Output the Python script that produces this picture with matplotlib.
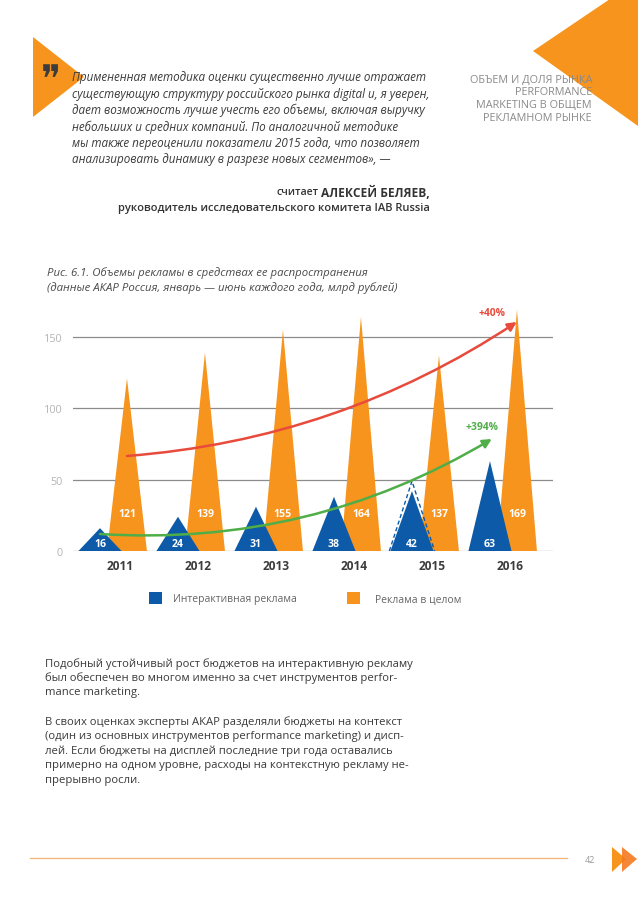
import matplotlib.pyplot as plt
from matplotlib.patches import Polygon, Rectangle

# chart data
years = ['2011', '2012', '2013', '2014', '2015', '2016']
interactive = [16, 24, 31, 38, 42, 63]
total = [121, 139, 155, 164, 137, 169]
interactive_2015_before = 49
growth_total = '+40%'
growth_interactive = '+394%'
yticks = [0, 50, 100, 150]
legend_labels = ['Интерактивная реклама', 'Реклама в целом']

quote_lines = [
    'Примененная методика оценки существенно лучше отражает',
    'существующую структуру российского рынка digital и, я уверен,',
    'дает возможность лучше учесть его объемы, включая выручку',
    'небольших и средних компаний. По аналогичной методике',
    'мы также переоценили показатели 2015 года, что позволяет',
    'анализировать динамику в разрезе новых сегментов», —',
]
header_lines = ['ОБЪЕМ И ДОЛЯ РЫНКА', 'PERFORMANCE', 'MARKETING В ОБЩЕМ', 'РЕКЛАМНОМ РЫНКЕ']
caption_lines = ['Рис. 6.1. Объемы рекламы в средствах ее распространения',
                 '(данные АКАР Россия, январь — июнь каждого года, млрд рублей)']
body_lines = [
    'Подобный устойчивый рост бюджетов на интерактивную рекламу',
    'был обеспечен во многом именно за счет инструментов perfor-',
    'mance marketing.',
    'В своих оценках эксперты АКАР разделяли бюджеты на контекст',
    '(один из основных инструментов performance marketing) и дисп-',
    'лей. Если бюджеты на дисплей последние три года оставались',
    'примерно на одном уровне, расходы на контекстную рекламу не-',
    'прерывно росли.',
]

BLUE = '#0d5ba8'
ORANGE = '#f7941d'
RED = '#e84a3c'
GREEN = '#4fae47'
FONT = ['Open Sans', 'DejaVu Sans']

W, H = 638, 903
fig = plt.figure(figsize=(W / 100, H / 100), dpi=100)

# page layer in pixel coordinates
page = fig.add_axes([0, 0, 1, 1])
page.set_xlim(0, W)
page.set_ylim(H, 0)
page.axis('off')

# decorations
page.add_patch(Polygon([(33, 38), (33, 118), (84, 78)], closed=True, color=ORANGE, lw=0))
page.add_patch(Polygon([(533, 52), (610, 0), (W, 0), (W, 127)], closed=True, color=ORANGE, lw=0))
page.text(51, 82, '❞', fontsize=27, color='#3d3d3d', va='center', ha='center',
          family=['DejaVu Sans'])

for i, line in enumerate(quote_lines):
    page.text(72, 78 + i * 16.4, line, fontsize=8.4, style='italic', color='#3a3a3a',
              va='center', ha='left', family=FONT)

name = page.text(430, 193, 'АЛЕКСЕЙ БЕЛЯЕВ,', fontsize=8.6, fontweight='bold', color='#333333',
                 va='center', ha='right', family=FONT)
fig.canvas.draw()
bb = name.get_window_extent()
page.text(bb.x0 - 3, 193, 'считает', fontsize=7.6, fontweight='semibold', color='#333333',
          va='center', ha='right', family=FONT)
page.text(430, 209, 'руководитель исследовательского комитета IAB Russia', fontsize=8.0,
          fontweight='semibold', color='#333333', va='center', ha='right', family=FONT)

for i, line in enumerate(header_lines):
    page.text(592, 80 + i * 12.8, line, fontsize=7.8, color='#8a8a8a', va='center', ha='right',
              family=FONT)

for i, line in enumerate(caption_lines):
    page.text(47, 273 + i * 15, line, fontsize=8.2, style='italic', color='#4a4a4a',
              va='center', ha='left', family=FONT)

body_y = [664, 678.5, 693, 722.5, 737, 751.5, 766, 780.5]
for y, line in zip(body_y, body_lines):
    page.text(45, y, line, fontsize=8.1, color='#3a3a3a', va='center', ha='left', family=FONT)

# legend
page.add_patch(Rectangle((149, 593), 13, 12, color=BLUE, lw=0))
page.text(173, 600, legend_labels[0], fontsize=7.5, color='#666666', va='center', family=FONT)
page.add_patch(Rectangle((347, 593), 13, 12, color=ORANGE, lw=0))
page.text(375, 600, legend_labels[1], fontsize=7.5, color='#666666', va='center', family=FONT)

# footer
page.plot([30, 567], [859, 859], color='#f2b472', lw=0.9)
page.text(590, 861, '42', fontsize=6.5, color='#9a9a9a', va='center', ha='center', family=FONT)
page.add_patch(Polygon([(612, 848), (612, 873), (626, 860)], closed=True, color=ORANGE, lw=0))
page.add_patch(Polygon([(622, 848), (622, 873), (637, 860)], closed=True, color='#f47a20', lw=0,
                       alpha=0.9))

# chart axes: zero at y=552 px, 1.4267 px per unit, 78 px per year
px_per_unit = 1.4267
ax = fig.add_axes([73 / W, 1 - 552 / H, 480 / W, 252 / H])
ax.set_xlim(-0.519, 5.635)
ax.set_ylim(0, 252 / px_per_unit)
ax.patch.set_alpha(0)
for s in ax.spines.values():
    s.set_visible(False)
ax.set_xticks([])
ax.set_yticks(yticks)
ax.set_yticklabels([str(t) for t in yticks], fontsize=7.8, color='#b5b5b5', family=FONT)
ax.tick_params(axis='y', length=0, pad=7.2)
for t in yticks:
    ax.axhline(t, color='#8c8c8c', lw=0.9, zorder=1)

off = 0.173
bw, ow = 0.276, 0.256
for i, (b, o) in enumerate(zip(interactive, total)):
    xo = i + off
    ax.fill([xo - ow, xo, xo + ow], [0, o, 0], color=ORANGE, lw=0, zorder=2, clip_on=False)
    xb = i - off
    ax.fill([xb - bw, xb, xb + bw], [0, b, 0], color=BLUE, lw=0, zorder=3, clip_on=False)
    ax.text(xo, 26, str(o), color='white', fontsize=7.6, fontweight='bold', ha='center',
            va='center', zorder=5, family=FONT)
    ax.text(xb, 5, str(b), color='white', fontsize=7.6, fontweight='bold', ha='center',
            va='center', zorder=5, family=FONT)
    ax.text(i + 0.08, -10.5, years[i], color='#3c3c3c', fontsize=8.6, fontweight='bold',
            ha='center', va='center', family=FONT, clip_on=False)

# 2015 before re-evaluation (dashed outline)
xd = 4 - off
dw = 0.29
ax.plot([xd - dw, xd, xd + dw], [0, interactive_2015_before, 0], color=BLUE, lw=1.0,
        ls=(0, (3, 2)), zorder=4, clip_on=False)

# growth arrows
ax.annotate('', xy=(5.17, 160.5), xytext=(0.173, 66.6),
            arrowprops=dict(arrowstyle='-|>', color=RED, lw=1.8, mutation_scale=13,
                            connectionstyle='arc3,rad=0.13', shrinkA=0, shrinkB=0),
            zorder=6, annotation_clip=False)
ax.annotate('', xy=(4.85, 78.5), xytext=(-0.173, 11.9),
            arrowprops=dict(arrowstyle='-|>', color=GREEN, lw=1.8, mutation_scale=13,
                            connectionstyle='arc3,rad=0.155', shrinkA=0, shrinkB=0),
            zorder=6, annotation_clip=False)
ax.text(4.85, 167.5, growth_total, color=RED, fontsize=7.4, fontweight='bold', ha='center',
        va='center', family=FONT, clip_on=False)
ax.text(4.73, 87.5, growth_interactive, color=GREEN, fontsize=7.4, fontweight='bold',
        ha='center', va='center', family=FONT, clip_on=False)

fig.savefig('out.png', dpi=100)
